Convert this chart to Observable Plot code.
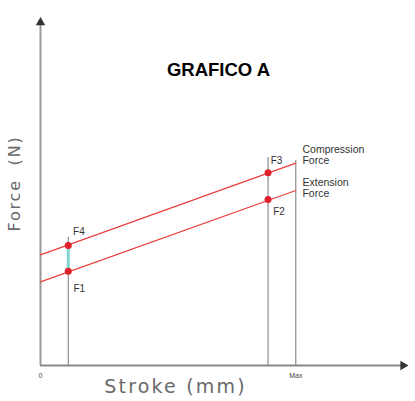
<!DOCTYPE html>
<html><head><meta charset="utf-8">
<script src="https://cdn.jsdelivr.net/npm/d3@7"></script>
<script src="https://cdn.jsdelivr.net/npm/@observablehq/plot@0.6"></script>
<style>body{margin:0;background:#fff}</style>
</head><body><div id="chart"></div>
<script>
// Force lines (stroke units, force units)
const lineStroke = [0, 69];
const compressionForce = [31.6, 57.8];
const extensionForce = [23.9, 50.0];
// Marked points
const pointLabels = ["F1", "F2", "F3", "F4"];
const pointStroke = [7.5, 61.5, 61.5, 7.5];
const pointForce = [26.9, 47.4, 55.1, 34.3];
// Vertical guides
const guideStroke = [7.5, 61.5, 69];
const guideTop = [36.6, 59.4, 58.6];
// Tick labels
const tickLabels = ["0", "Max"];
const tickStroke = [0, 69];

const lines = [
  ...lineStroke.map((s, i) => ({series: "Compression", stroke: s, force: compressionForce[i]})),
  ...lineStroke.map((s, i) => ({series: "Extension", stroke: s, force: extensionForce[i]}))
];
const points = pointLabels.map((l, i) => ({label: l, stroke: pointStroke[i], force: pointForce[i]}));
const guides = guideStroke.map((s, i) => ({stroke: s, top: guideTop[i]}));
const ticks = tickLabels.map((t, i) => ({label: t, stroke: tickStroke[i]}));
const labelPos = {F1: [1.4, -4.9], F2: [1.4, -3.4], F3: [0.7, 3.5], F4: [1.3, 3.8]};

const chart = Plot.plot({
  width: 415, height: 401, margin: 0,
  style: {background: "#fff"},
  x: {domain: [0, 100], range: [40, 410], axis: null},
  y: {domain: [0, 100], range: [365, 15], axis: null},
  marks: [
    // guides
    Plot.ruleX(guides, {x: "stroke", y1: 0, y2: "top", stroke: "#777", strokeWidth: 1}),
    // cyan segment between F1 and F4
    Plot.ruleX([0], {x: pointStroke[0], y1: pointForce[0], y2: pointForce[3], stroke: "#7fd6cf", strokeWidth: 3}),
    // axes
    Plot.ruleX([0], {x: 0, y1: 0, y2: 98, stroke: "#999", strokeWidth: 2}),
    Plot.ruleY([0], {y: 0, x1: 0, x2: 98, stroke: "#888", strokeWidth: 2}),
    Plot.dot([0], {x: 0, y: 98, symbol: "triangle", r: 3.5, fill: "#333", stroke: "none"}),
    Plot.dot([0], {x: 98, y: 0, symbol: "triangle", r: 3.5, fill: "#333", stroke: "none", rotate: 90}),
    // force lines
    Plot.line(lines, {x: "stroke", y: "force", z: "series", stroke: "#e8413f", strokeWidth: 1.3}),
    Plot.dot(points, {x: "stroke", y: "force", r: 3.5, fill: "#e0202a"}),
    Plot.text(points, {x: d => d.stroke + labelPos[d.label][0], y: d => d.force + labelPos[d.label][1], text: "label", textAnchor: "start", fontSize: 10, fill: "#333", fontFamily: "Liberation Sans, Arial, sans-serif"}),
    // series labels
    Plot.text(["Compression\nForce"], {x: 70.8, y: 62.8, text: d => d, textAnchor: "start", lineAnchor: "top", lineHeight: 1.0, fontSize: 10.5, fill: "#333", fontFamily: "Liberation Sans, Arial, sans-serif"}),
    Plot.text(["Extension\nForce"], {x: 70.8, y: 53.3, text: d => d, textAnchor: "start", lineAnchor: "top", lineHeight: 1.0, fontSize: 10.5, fill: "#333", fontFamily: "Liberation Sans, Arial, sans-serif"}),
    // tick labels
    Plot.text(ticks, {x: "stroke", y: -2.9, text: "label", fontSize: 7, fontWeight: d => d.label === "Max" ? "bold" : "normal", fill: "#444", fontFamily: "Liberation Sans, Arial, sans-serif"}),
    // axis titles
    Plot.text(["Stroke (mm)"], {x: 36.5, y: -6, text: d => d, fontSize: 19, fill: "#6a6a6a", fontFamily: "DejaVu Sans, sans-serif", className: "xlabel"}),
    Plot.text(["Force  (N)"], {x: -7, y: 52, text: d => d, rotate: -90, fontSize: 16, fill: "#6a6a6a", fontFamily: "DejaVu Sans, sans-serif", className: "ylabel"}),
    // title
    Plot.text(["GRAFICO A"], {x: 48.1, y: 84.3, text: d => d, fontSize: 18.5, fontWeight: "bold", fill: "#000", fontFamily: "Liberation Sans, Arial, sans-serif"})
  ]
});
d3.select(chart).selectAll(".xlabel text").attr("letter-spacing", "2.2px");
d3.select(chart).selectAll(".ylabel text").attr("letter-spacing", "1.8px");
document.getElementById("chart").append(chart);
</script>
</body></html>
